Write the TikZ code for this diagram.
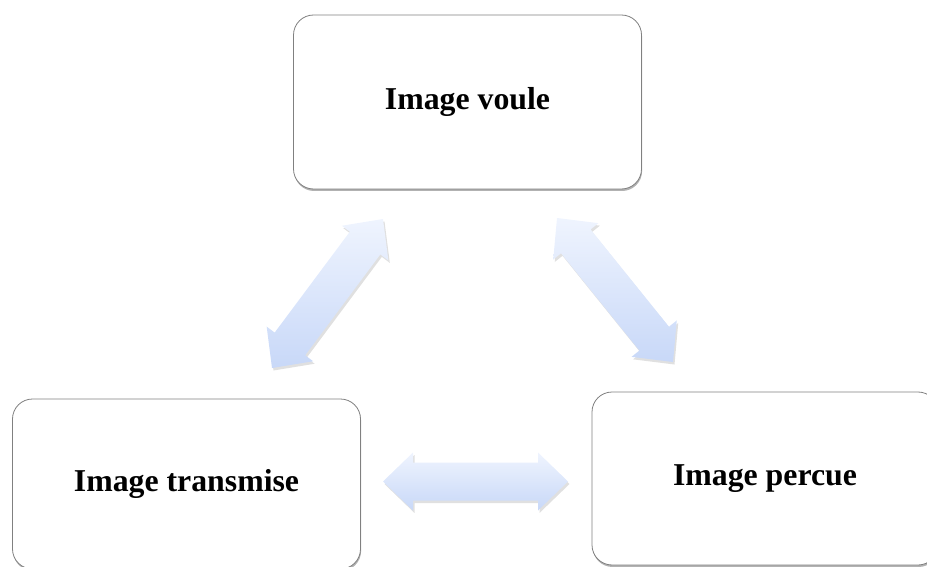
\documentclass[tikz,border=0pt]{standalone}
\usepackage{fontspec}
\setmainfont{Liberation Serif}
\usetikzlibrary{calc,shadows}
\newcommand\dblarr[2]{%
  \path[arrowfill]
    (#1)
    -- ($(#1)!30pt!(#2)!29pt!90:(#2)$)
    -- ($(#1)!30pt!(#2)!19pt!90:(#2)$)
    -- ($(#2)!30pt!(#1)!19pt!-90:(#1)$)
    -- ($(#2)!30pt!(#1)!29pt!-90:(#1)$)
    -- (#2)
    -- ($(#2)!30pt!(#1)!29pt!90:(#1)$)
    -- ($(#2)!30pt!(#1)!19pt!90:(#1)$)
    -- ($(#1)!30pt!(#2)!19pt!-90:(#2)$)
    -- ($(#1)!30pt!(#2)!29pt!-90:(#2)$)
    -- cycle;}
\begin{document}
\begin{tikzpicture}[x=1pt,y=-1pt,
  box/.style={draw=black!50, line width=0.8pt, fill=white, rounded corners=20pt,
    minimum width=348pt, minimum height=174pt, inner sep=0pt,
    font=\bfseries\fontsize{31.8}{38}\selectfont,
    drop shadow={shadow xshift=0.6pt, shadow yshift=-2pt, opacity=0.3, fill=black}},
  arrowfill/.style={top color=arrowtop, bottom color=arrowbot,
    drop shadow={shadow xshift=1.5pt, shadow yshift=-2.5pt, opacity=0.12, fill=black}}]
\definecolor{arrowtop}{RGB}{239,244,254}
\definecolor{arrowbot}{RGB}{200,216,248}
\useasboundingbox (0,0) rectangle (927,567);
\node[box] (voule) at (467.5,102) {Image voule};
\node[box, minimum height=170pt] (transmise) at (186.5,484) {Image transmise};
\node[box, minimum width=346pt, minimum height=173pt] (percue) at (765,478.5) {Image percue};
% arrow end points
\coordinate (l1) at (383,219);
\coordinate (l2) at (272,368);
\coordinate (r1) at (557,218);
\coordinate (r2) at (673,362);
\coordinate (h1) at (383,481.5);
\coordinate (h2) at (568,481.5);
\dblarr{l1}{l2}
\dblarr{r1}{r2}
\dblarr{h1}{h2}
\end{tikzpicture}
\end{document}
